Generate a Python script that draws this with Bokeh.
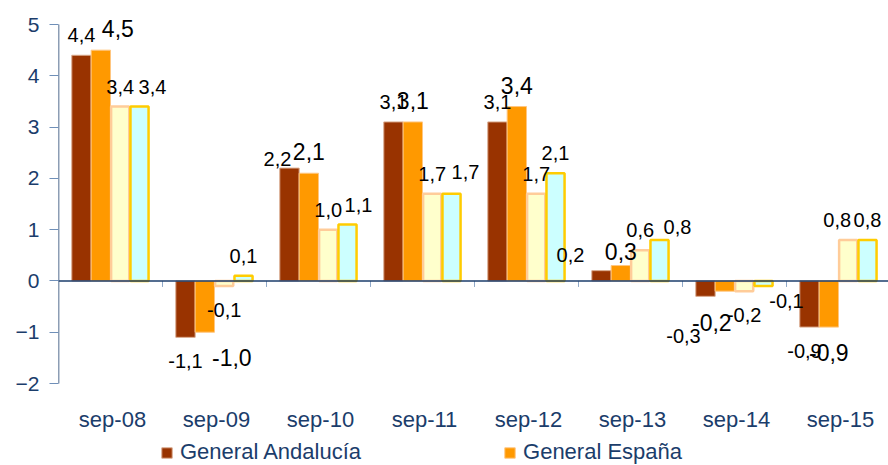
from bokeh.plotting import figure
from bokeh.models import Range1d, FixedTicker, Span, Legend, LegendItem, ColumnDataSource
from bokeh.core.properties import value
from bokeh.embed import file_html
from bokeh.resources import INLINE

categories = ["sep-08", "sep-09", "sep-10", "sep-11", "sep-12", "sep-13", "sep-14", "sep-15"]
general_andalucia = [4.4, -1.1, 2.2, 3.1, 3.1, 0.2, -0.3, -0.9]
general_espana = [4.5, -1.0, 2.1, 3.1, 3.4, 0.3, -0.2, -0.9]
serie_3 = [3.4, -0.1, 1.0, 1.7, 1.7, 0.6, -0.2, 0.8]
serie_4 = [3.4, 0.1, 1.1, 1.7, 2.1, 0.8, -0.1, 0.8]
y_ticks = [-2, -1, 0, 1, 2, 3, 4, 5]

# small screen-pixel nudges of individual data labels (series index, category index): (dx, dy)
label_nudge = {
    (1, 0): (17, 0), (3, 0): (13, 0), (1, 1): (27, 0),
    (0, 2): (-12, 11), (3, 2): (11, 0), (3, 3): (14, -2),
    (0, 5): (-31, 4), (1, 5): (0, 7), (3, 5): (18, 7),
    (0, 6): (-22, 16), (1, 6): (-13, 6), (3, 6): (23, -9),
    (0, 7): (-5, 0), (2, 7): (-11, 0),
}

NAVY = "#1B3D6B"
FONT = "Liberation Sans"

W, H = 888, 465
LEFT, TOP = 58, 4
Y5_PX, YM2_PX = 24, 383
CAT_PX = 104.0
frame_w = W - LEFT
px_per_unit = (YM2_PX - Y5_PX) / 7.0
y_end = 5 + (Y5_PX - TOP) / px_per_unit
y_start = -2 - (H - YM2_PX) / px_per_unit

p = figure(width=W, height=H, output_backend="svg", toolbar_location=None,
           x_range=Range1d(0, frame_w / CAT_PX), y_range=Range1d(y_start, y_end),
           min_border_left=LEFT, min_border_right=0, min_border_top=TOP,
           min_border_bottom=0)
p.outline_line_color = None
p.grid.visible = False
p.background_fill_color = "white"
p.border_fill_color = "white"
p.xaxis.visible = False

bw = 0.186
series = [
    (general_andalucia, "#993300", "#D9A98C", 1, 20),
    (general_espana, "#FF9900", "#FFC680", 1, 23),
    (serie_3, "#FFFFCC", "#FFCC99", 2.5, 20),
    (serie_4, "#CCFFFF", "#FFCC00", 2.5, 20),
]
renderers = []
n = len(categories)
fmt = lambda v: f"{v:.1f}".replace(".", ",")
xs_all = []
for k, (vals, fill, line, lw, fs) in enumerate(series):
    xs = [i + 0.5 + (k - 1.5) * bw for i in range(n)]
    xs_all.append(xs)
    src = ColumnDataSource(dict(x=xs, top=vals, bottom=[0] * n))
    r = p.vbar(x="x", top="top", bottom="bottom", width=bw - (0.012 if lw > 1 else 0), source=src,
               fill_color=fill, line_color=line, line_width=lw)
    renderers.append(r)

# zero line and category tick marks
p.add_layout(Span(location=0, dimension="width", line_color=NAVY, line_width=1.5, level="overlay"))
p.segment(x0=list(range(1, n)), y0=[0] * (n - 1), x1=list(range(1, n)),
          y1=[-6 / px_per_unit] * (n - 1), line_color="#8FA8C8", line_width=1)
# vertical axis line
p.segment(x0=[0], y0=[y_ticks[0]], x1=[0], y1=[y_ticks[-1]], line_color=NAVY, line_width=1.5)

# data labels, drawn after all bars
for k, (vals, fill, line, lw, fs) in enumerate(series):
    xs = xs_all[k]
    for positive in (True, False):
        idx = [i for i in range(n) if (vals[i] >= 0) == positive]
        if not idx:
            continue
        base = -13 if positive else 17
        p.text(x=[xs[i] for i in idx], y=[vals[i] for i in idx],
               text=[fmt(vals[i]) for i in idx],
               x_offset=[label_nudge.get((k, i), (0, 0))[0] for i in idx],
               y_offset=[base + label_nudge.get((k, i), (0, 0))[1] for i in idx],
               text_align="center", text_baseline="bottom" if positive else "top",
               text_font=value(FONT), text_font_size=f"{fs}px", text_color="black")

# category labels (placed on the data scale below the value axis' minimum)
p.text(x=[i + 0.5 for i in range(n)], y=[y_ticks[0]] * n, text=categories,
       text_align="center", text_baseline="top", y_offset=23, x_offset=2,
       text_font=value(FONT), text_font_size="22px", text_color=NAVY)

# y axis
ya = p.yaxis[0]
ya.ticker = FixedTicker(ticks=y_ticks)
ya.axis_line_color = None
ya.major_tick_line_color = "#6F8FB8"
ya.major_tick_out = 9
ya.major_tick_in = 0
ya.minor_tick_line_color = None
ya.major_label_standoff = 10
ya.major_label_text_font = FONT
ya.major_label_text_font_size = "21px"
ya.major_label_text_color = NAVY

legend = Legend(items=[LegendItem(label="General Andalucía", renderers=[renderers[0]]),
                       LegendItem(label="General España", renderers=[renderers[1]])],
                location=(102, 0), orientation="horizontal", spacing=142,
                glyph_width=13, glyph_height=13, label_standoff=7, padding=0, margin=0,
                border_line_color=None, background_fill_alpha=0,
                label_text_font=FONT, label_text_font_size="22px", label_text_color=NAVY)
p.add_layout(legend, "center")

open("out.html", "w").write(file_html(p, INLINE))
